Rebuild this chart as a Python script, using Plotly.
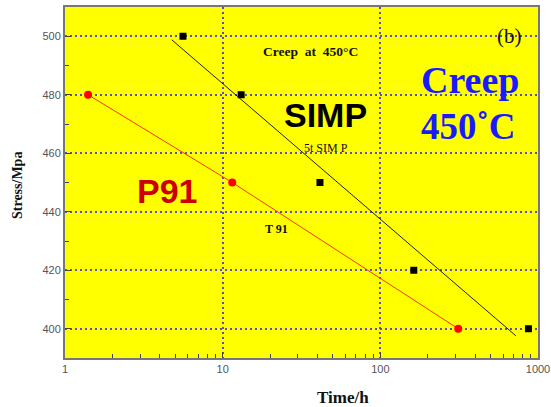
import plotly.graph_objects as go

# ---- data ----
simp_time = [5.6, 13.1, 41.4, 163, 870]
simp_stress = [500, 480, 450, 420, 400]
simp_fit_time = [4.75, 724]
simp_fit_stress = [498.8, 397.6]

p91_time = [1.4, 11.5, 312]
p91_stress = [480, 450, 400]

x_tick_vals = [1, 10, 100, 1000]
x_tick_text = ["1", "10", "100", "1000"]
y_tick_vals = [400, 420, 440, 460, 480, 500]

fig = go.Figure()
fig.add_trace(go.Scatter(x=simp_fit_time, y=simp_fit_stress, mode="lines",
                         line=dict(color="#222200", width=1), showlegend=False))
fig.add_trace(go.Scatter(x=simp_time, y=simp_stress, mode="markers",
                         marker=dict(symbol="square", size=7, color="black"), showlegend=False))
fig.add_trace(go.Scatter(x=p91_time, y=p91_stress, mode="lines+markers",
                         line=dict(color="#ff3300", width=1),
                         marker=dict(symbol="circle", size=8, color="#ff0000"), showlegend=False))

grid = dict(showgrid=True, gridcolor="#5050c8", griddash="2px,3px", gridwidth=1.5)
tickfont = dict(family="Arial, Liberation Sans", size=11, color="#555555")

fig.update_xaxes(type="log", range=[0, 3], tickvals=x_tick_vals, ticktext=x_tick_text,
                 ticks="inside", ticklen=6, tickcolor="#444444", automargin=False,
                 minor=dict(ticks="inside", ticklen=4, dtick="D1", tickcolor="#444444", showgrid=False),
                 showline=True, linecolor="#777777", linewidth=2, mirror=True,
                 tickfont=tickfont, zeroline=False, **grid)
fig.update_yaxes(range=[390, 510], tickvals=y_tick_vals, automargin=False,
                 ticks="inside", ticklen=6, tickcolor="#444444",
                 minor=dict(ticks="inside", ticklen=4, dtick=10, tickcolor="#444444", showgrid=False),
                 showline=True, linecolor="#777777", linewidth=2, mirror=True,
                 tickfont=tickfont, zeroline=False, **grid)

serif = "Liberation Serif, Times New Roman, serif"
sans = "Liberation Sans, Arial, sans-serif"

W, H = 551, 407
L, R, T, B = 65, 13, 7, 49
pw, ph = W - L - R, H - T - B


def add(xp, yp, text, size, color, family, bold=True, angle=0):
    t = f"<b>{text}</b>" if bold else text
    fig.add_annotation(x=(xp - L) / pw, y=1 - (yp - T) / ph, xref="paper", yref="paper",
                       text=t, showarrow=False,
                       font=dict(family=family, size=size, color=color),
                       xanchor="center", yanchor="middle", textangle=angle)


add(310, 52, "Creep  at  450°C", 13.5, "#111111", serif)
add(509, 36, "(b)", 21, "#111111", serif, bold=False)
add(470, 80, "Creep", 38, "#1a1aff", serif)
add(468, 126, "450˚C", 37, "#1a1aff", serif)
add(325, 115, "SIMP", 34, "#000000", sans)
add(326, 148, "5t SIM P", 12, "#111111", serif, bold=False)
add(167, 191, "P91", 34, "#cc0000", sans)
add(276, 229, "T 91", 12, "#111111", serif)
add(17, 186, "Stress/Mpa", 14, "#111111", serif, angle=-90)
add(343, 397, "Time/h", 17, "#111111", serif)

fig.update_layout(width=W, height=H, margin=dict(l=L, r=R, t=T, b=B),
                  plot_bgcolor="#ffff00", paper_bgcolor="white", showlegend=False)

fig.write_html("out.html", config={"displayModeBar": False},
               post_script="document.body.style.margin='0';document.body.style.overflow='hidden';")
